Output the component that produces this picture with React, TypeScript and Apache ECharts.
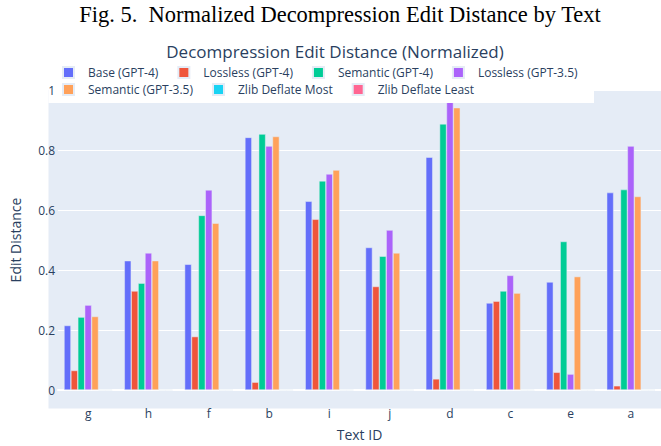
import React, { useEffect, useRef } from "react";
import * as echarts from "echarts";

const categories = ["g", "h", "f", "b", "i", "j", "d", "c", "e", "a"];

const seriesNames = [
  "Base (GPT-4)",
  "Lossless (GPT-4)",
  "Semantic (GPT-4)",
  "Lossless (GPT-3.5)",
  "Semantic (GPT-3.5)",
  "Zlib Deflate Most",
  "Zlib Deflate Least",
];

const base4 = [0.215, 0.431, 0.419, 0.842, 0.629, 0.475, 0.776, 0.29, 0.36, 0.658];
const lossless4 = [0.065, 0.33, 0.178, 0.026, 0.569, 0.345, 0.037, 0.296, 0.059, 0.014];
const semantic4 = [0.243, 0.356, 0.582, 0.853, 0.697, 0.446, 0.887, 0.33, 0.495, 0.668];
const lossless35 = [0.283, 0.457, 0.667, 0.813, 0.72, 0.533, 0.97, 0.382, 0.053, 0.813];
const semantic35 = [0.245, 0.431, 0.556, 0.845, 0.733, 0.457, 0.941, 0.323, 0.378, 0.645];
const zlibMost = [0, 0, 0, 0, 0, 0, 0, 0, 0, 0];
const zlibLeast = [0, 0, 0, 0, 0, 0, 0, 0, 0, 0];

const seriesValues = [base4, lossless4, semantic4, lossless35, semantic35, zlibMost, zlibLeast];

const colors = ["#636EFA", "#EF553B", "#00CC96", "#AB63FA", "#FFA15A", "#19D3F3", "#FF6692"];

const yTicks = { min: 0, max: 1, interval: 0.2 };

export default function App() {
  const ref = useRef<HTMLDivElement>(null);
  useEffect(() => {
    const chart = echarts.init(ref.current!, null, { renderer: "svg" });
    const font = "'Open Sans', verdana, arial, sans-serif";
    const textColor = "#2a3f5f";
    const gl = 48.5;
    const gt = 90;
    const gw = 617.5;
    const gh = 303.7;
    const legendCommon = {
      orient: "horizontal",
      left: 62,
      icon: "rect",
      itemWidth: 11,
      itemHeight: 11,
      itemGap: 19,
      padding: 0,
      textStyle: { color: textColor, fontSize: 12, fontFamily: font, padding: [0, 0, 0, 9] },
    };
    const yBase = {
      type: "value",
      position: "left",
      min: yTicks.min,
      max: yTicks.max,
      interval: yTicks.interval,
      axisLine: { show: false },
      axisTick: { show: false },
    };
    chart.setOption({
      animation: false,
      backgroundColor: "#ffffff",
      color: colors,
      textStyle: { fontFamily: font },
      grid: { left: gl, top: gt, width: gw, height: gh },
      graphic: [
        {
          type: "rect",
          z: -10,
          silent: true,
          shape: { x: gl, y: gt, width: gw, height: 318.5 },
          style: { fill: "#E5ECF6" },
        },
        {
          type: "rect",
          z: 3,
          silent: true,
          shape: { x: gl, y: 62, width: 594 - gl, height: 41 },
          style: { fill: "#ffffff" },
        },
        {
          type: "text",
          x: 340,
          y: 14,
          silent: true,
          style: {
            text: "Fig. 5.\u00a0 Normalized Decompression Edit Distance by Text",
            font: "22.5px 'Liberation Serif', 'Times New Roman', serif",
            fill: "#000000",
            textAlign: "center",
            textVerticalAlign: "middle",
            align: "center",
            verticalAlign: "middle",
          },
        },
        {
          type: "text",
          x: 335,
          y: 51,
          silent: true,
          style: {
            text: "Decompression Edit Distance (Normalized)",
            font: "17px 'Open Sans', verdana, arial, sans-serif",
            fill: textColor,
            textAlign: "center",
            textVerticalAlign: "middle",
            align: "center",
            verticalAlign: "middle",
          },
        },
      ],
      legend: [
        { ...legendCommon, top: 66, data: seriesNames.slice(0, 4) },
        { ...legendCommon, top: 83, data: seriesNames.slice(4) },
      ],
      xAxis: {
        type: "category",
        data: categories,
        axisLine: { show: true, lineStyle: { color: "#ffffff", width: 2 } },
        axisTick: { show: false },
        axisLabel: { color: textColor, fontSize: 12, margin: 17, fontFamily: font },
        splitLine: { show: false },
        name: "Text ID",
        nameLocation: "middle",
        nameGap: 37,
        nameTextStyle: { color: textColor, fontSize: 14, fontFamily: font },
      },
      yAxis: [
        {
          ...yBase,
          axisLabel: { show: false },
          splitLine: { show: true, lineStyle: { color: "#ffffff", width: 1 } },
        },
        {
          ...yBase,
          z: 10,
          offset: 0,
          axisLabel: {
            color: textColor,
            fontSize: 12,
            margin: 3,
            fontFamily: font,
            showMaxLabel: true,
            showMinLabel: true,
          },
          splitLine: { show: false },
          name: "Edit Distance",
          nameLocation: "middle",
          nameRotate: 90,
          nameGap: 36,
          nameTextStyle: { color: textColor, fontSize: 14, fontFamily: font },
        },
      ],
      series: seriesNames.map((name, i) => ({
        name,
        type: "bar",
        yAxisIndex: 0,
        data: seriesValues[i],
        barGap: "0%",
        barCategoryGap: "20%",
        itemStyle: { color: colors[i], borderColor: "#E5ECF6", borderWidth: 0.5 },
      })),
    });
    return () => chart.dispose();
  }, []);
  return (
    <div
      ref={ref}
      style={{ position: "fixed", left: 0, top: 0, width: 661, height: 446 }}
    />
  );
}
